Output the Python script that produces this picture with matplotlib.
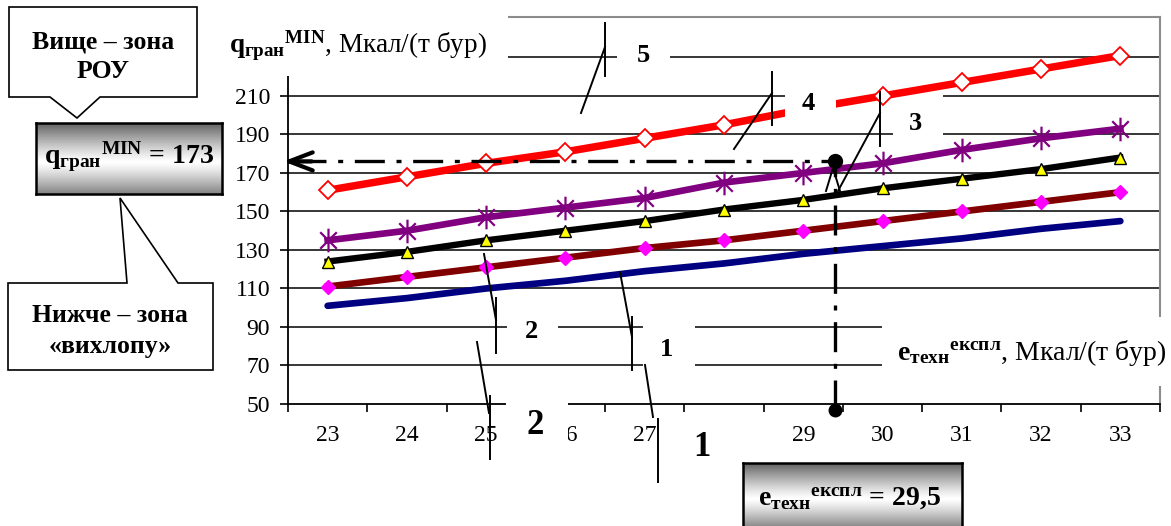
import matplotlib
matplotlib.use('Agg')
import matplotlib.pyplot as plt
import numpy as np
from matplotlib.patches import Rectangle, Polygon
from matplotlib.path import Path

plt.rcParams['font.family'] = ['Liberation Serif', 'DejaVu Serif']
plt.rcParams['mathtext.fontset'] = 'custom'
plt.rcParams['mathtext.rm'] = 'Liberation Serif'
plt.rcParams['mathtext.bf'] = 'Liberation Serif:bold'
plt.rcParams['mathtext.it'] = 'Liberation Serif:italic'

W, H = 1171, 526

# дані з графіка
e_tech = [23, 24, 25, 26, 27, 28, 29, 30, 31, 32, 33]
x_labels = ['23', '24', '25', '26', '27', '28', '29', '30', '31', '32', '33']
q_1 = [101, 105, 110, 114, 119, 123, 128, 132, 136, 141, 145]
q_2 = [111, 116, 121, 126, 131, 135, 140, 145, 150, 155, 160]
q_3 = [124, 129, 135, 140, 145, 151, 156, 162, 167, 172, 178]
q_4 = [135, 140, 147, 152, 157, 165, 170, 175, 182, 188, 193]
q_5 = [161, 168, 175, 181, 188, 195, 203, 210, 217, 224, 231]
y_ticks = [50, 70, 90, 110, 130, 150, 170, 190, 210]
grid_levels = [70, 90, 110, 130, 150, 170, 190, 210, 230]
e_point = 29.4      # положення вертикальної лінії
q_point = 176       # положення горизонтальної лінії
q_foot = 47
e_label = '29,5'
q_label = '173'

# зірочка як в Excel: вертикаль + косий хрест
star = Path([(0, -1), (0, 1), (-0.7, -0.7), (0.7, 0.7), (-0.7, 0.7), (0.7, -0.7)],
            [Path.MOVETO, Path.LINETO, Path.MOVETO, Path.LINETO, Path.MOVETO, Path.LINETO])

fig = plt.figure(figsize=(W / 100, H / 100), dpi=100)
ax = fig.add_axes([288 / W, (H - 404) / H, 872 / W, 387 / H], zorder=0)
ax.set_xlim(22.5, 33.5)
ax.set_ylim(50, 251)

for g in grid_levels:
    ax.axhline(g, color='black', lw=1.1, zorder=1)

ax.plot(e_tech, q_1, color='#000080', lw=4.8, solid_capstyle='round', zorder=3)
ax.plot(e_tech, q_2, color='#800000', lw=4.8, marker='D', ms=7.5,
        mfc='#FF00FF', mec='#FF00FF', zorder=3)
ax.plot(e_tech, q_3, color='black', lw=4.6, marker='^', ms=8.5,
        mfc='yellow', mec='black', mew=1, zorder=3)
ax.plot(e_tech, q_4, color='#800080', lw=4.8, marker=star, ms=17,
        mec='#800080', mew=1.6, zorder=3)
ax.plot(e_tech, q_5, color='red', lw=5.4, marker='D', ms=9.5,
        mfc='white', mec='red', mew=1.3, zorder=3)

# штрих-пунктир
dd = (0, (9, 3.5, 1.5, 3.5))
ax.plot([e_point, e_point], [q_foot, q_point], color='black', lw=2.4,
        linestyle=dd, clip_on=False, zorder=4)
ax.plot([22.6, e_point], [q_point, q_point], color='black', lw=2.4,
        linestyle=dd, clip_on=False, zorder=4)
ax.annotate('', xy=(22.44, q_point), xytext=(22.8, q_point),
            arrowprops=dict(arrowstyle='->,head_length=1.7,head_width=0.65',
                            lw=3, color='black', shrinkA=0, shrinkB=0),
            annotation_clip=False, zorder=4)
ax.plot([e_point], [q_point], 'o', color='black', ms=10, clip_on=False, zorder=5)
ax.plot([e_point], [q_foot], 'o', color='black', ms=9, clip_on=False, zorder=5)

for s in ['top', 'right']:
    ax.spines[s].set_color('#8c8c8c')
    ax.spines[s].set_linewidth(1.5)
for s in ['left', 'bottom']:
    ax.spines[s].set_linewidth(1.3)

ax.set_yticks(y_ticks)
ax.set_yticklabels([str(v) for v in y_ticks], fontsize=17)
ax.tick_params(axis='y', length=5.8, width=1.2, pad=7)
ax.set_xticks(np.arange(22.5, 34, 1))
ax.set_xticklabels([])
ax.set_xticks(e_tech, minor=True)
ax.set_xticklabels(x_labels, minor=True, fontsize=17)
ax.tick_params(axis='x', which='major', length=5.8, width=1.2)
ax.tick_params(axis='x', which='minor', length=0, pad=15)

# градієнтні рамки
def grad_box(x0, y0, x1, y1):
    gax = fig.add_axes([x0 / W, 1 - y1 / H, (x1 - x0) / W, (y1 - y0) / H], zorder=0.5)
    t = np.linspace(0, 1, 200)[:, None]
    v = 1 - 0.62 * (np.abs(t - 0.55) / 0.55) ** 1.2
    gax.imshow(np.repeat(v, 10, axis=1), cmap='gray', vmin=0, vmax=1, aspect='auto')
    gax.set_xticks([])
    gax.set_yticks([])
    for s in gax.spines.values():
        s.set_linewidth(1.8)

grad_box(36, 123, 222, 194)
grad_box(743, 463, 962, 528)

ov = fig.add_axes([0, 0, 1, 1], zorder=1)
ov.set_xlim(0, W)
ov.set_ylim(H, 0)
ov.axis('off')
ov.patch.set_alpha(0)


def white(x0, y0, x1, y1, a=ov, z=1):
    a.add_patch(Rectangle((x0, y0), x1 - x0, y1 - y0, fc='white', ec='none',
                          zorder=z, transform=ov.transData, clip_on=False))


# білі плашки під підписами
white(836, 88, 943, 104, a=ax, z=1.5)
white(222, 0, 508, 76)
white(617, 40, 670, 72)
white(785, 84, 836, 122)
white(893, 115, 943, 148)
white(507, 312, 558, 350)
white(643, 312, 695, 380)
white(506, 392, 568, 470)
white(672, 412, 742, 485)
white(882, 317, 1171, 386)

leaders = [
    [(605, 23), (605, 76)], [(605, 47), (581, 113)],
    [(772, 72), (772, 125)], [(772, 93), (734, 149)],
    [(880, 92), (880, 146)], [(880, 113), (838, 191)],
    [(833, 168), (826, 191)], [(833, 168), (840, 191)],
    [(496, 298), (496, 353)], [(484, 254), (496, 320)],
    [(632, 317), (632, 370)], [(620, 272), (632, 337)],
    [(490, 396), (490, 459)], [(477, 342), (489, 413)],
    [(658, 419), (658, 482)], [(645, 365), (653, 417)],
]
for (xa, ya), (xb, yb) in leaders:
    ov.plot([xa, xb], [ya, yb], color='black', lw=1.4, zorder=3)

for s, x, y, fs in [('5', 643, 55, 19), ('4', 808, 103, 19), ('3', 915, 123, 19),
                    ('2', 531, 332, 19), ('1', 667, 350, 19),
                    ('2', 535, 426, 25), ('1', 702, 448, 25)]:
    ov.text(x, y, s, ha='center', va='center', fontsize=fs, fontweight='bold', zorder=4)

# виноски
ov.add_patch(Polygon([(9, 7), (197, 7), (197, 97), (100, 97), (77, 118), (50, 97), (9, 97)],
                     closed=True, fc='white', ec='black', lw=1.2, zorder=2))
ov.add_patch(Polygon([(8, 283), (127, 283), (120, 198), (178, 283), (213, 283), (213, 370), (8, 370)],
                     closed=True, fc='white', ec='black', lw=1.2, zorder=2))
ov.text(103, 42, 'Вище – зона', ha='center', va='center', fontsize=18.5, fontweight='bold', zorder=4)
ov.text(103, 72, 'РОУ', ha='center', va='center', fontsize=18.5, fontweight='bold', zorder=4)
ov.text(110, 316, 'Нижче – зона', ha='center', va='center', fontsize=18.5, fontweight='bold', zorder=4)
ov.text(110, 347, '«вихлопу»', ha='center', va='center', fontsize=18.5, fontweight='bold', zorder=4)

q_sym = r'$\mathbf{q}_{\mathbf{гран}}{}^{\mathbf{MIN}}$'
e_sym = r'$\mathbf{e}_{\mathbf{техн}}{}^{\mathbf{експл}}$'
ov.text(229, 53, q_sym + ', Мкал/(т бур)', fontsize=19.5, ha='left', va='baseline', zorder=4)
ov.text(897, 360, e_sym + ', Мкал/(т бур)', fontsize=20, ha='left', va='baseline', zorder=4)
ov.text(129, 164, q_sym + ' = ' + q_label, fontsize=20, fontweight='bold',
        ha='center', va='baseline', zorder=4)
ov.text(758, 505, e_sym + ' = ' + e_label, fontsize=20, fontweight='bold',
        ha='left', va='baseline', zorder=4)

fig.savefig('out.png', dpi=100)
